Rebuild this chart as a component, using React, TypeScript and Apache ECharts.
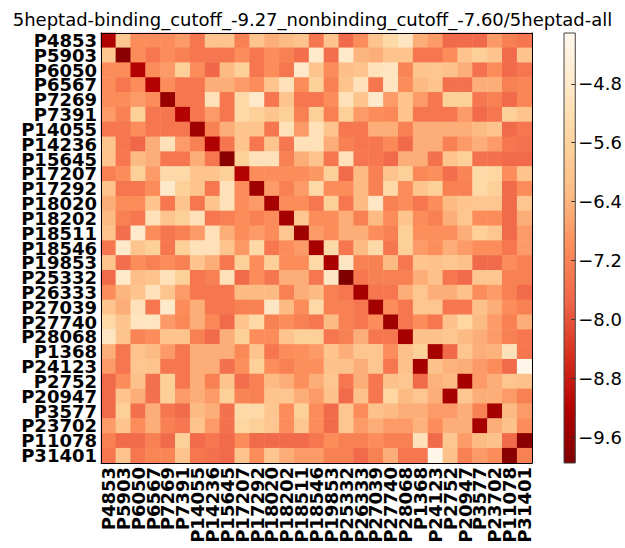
import React, { useEffect, useRef } from "react";
import * as echarts from "echarts";

const TITLE = "5heptad-binding_cutoff_-9.27_nonbinding_cutoff_-7.60/5heptad-all";

const LABELS = [
  "P4853", "P5903", "P6050", "P6567", "P7269", "P7391", "P14055", "P14236", "P15645", "P17207",
  "P17292", "P18020", "P18202", "P18511", "P18546", "P19853", "P25332", "P26333", "P27039", "P27740",
  "P28068", "P1368", "P24123", "P2752", "P20947", "P3577", "P23702", "P11078", "P31401",
];

const MATRIX: number[][] = [
  [-9.25, -5.95, -7.05, -7.05, -7.05, -6.8, -7.45, -6.05, -6.05, -7.25, -6.05, -6.5, -6.3, -6.05, -7.45, -6.05, -7.65, -7.05, -6.05, -5.4, -4.95, -6.5, -6.8, -7.65, -7.65, -7.65, -6.8, -7.25, -7.45],
  [-5.95, -9.8, -7.05, -7.45, -7.05, -7.25, -7.45, -7.45, -7.45, -7.05, -7.45, -7.05, -7.25, -7.6, -4.8, -7.6, -4.8, -6.4, -6.5, -6.05, -6.05, -7.45, -7.45, -7.05, -6.05, -5.7, -6.05, -7.65, -6.05],
  [-7.05, -7.05, -9.2, -7.05, -6.8, -5.7, -7.05, -7.7, -6.3, -5.7, -7.45, -7.05, -7.45, -4.8, -6.05, -7.05, -6.2, -6.05, -5.1, -5.0, -7.2, -6.05, -6.0, -6.1, -6.5, -7.55, -7.05, -7.65, -7.45],
  [-7.05, -7.45, -7.05, -9.2, -7.05, -7.45, -7.45, -6.5, -6.5, -6.8, -7.05, -6.05, -5.1, -7.05, -5.7, -7.25, -6.05, -5.1, -7.45, -5.0, -7.05, -6.3, -6.05, -7.55, -7.55, -6.5, -6.5, -7.25, -7.15],
  [-7.05, -7.05, -6.8, -7.05, -9.6, -7.45, -7.45, -5.1, -7.45, -5.4, -4.8, -7.45, -6.05, -7.45, -7.45, -7.05, -5.1, -6.05, -4.8, -6.8, -6.05, -6.8, -7.45, -5.7, -5.7, -7.45, -7.25, -7.65, -7.15],
  [-6.8, -7.25, -5.7, -7.45, -7.45, -9.2, -7.45, -6.8, -7.45, -5.4, -5.7, -6.05, -5.7, -7.25, -5.7, -7.25, -5.7, -6.8, -7.05, -7.1, -6.05, -7.45, -7.45, -7.45, -6.8, -7.65, -7.45, -5.7, -6.05],
  [-7.45, -7.45, -7.05, -7.45, -7.45, -7.45, -9.5, -7.25, -6.5, -6.05, -6.05, -7.45, -5.1, -6.8, -5.1, -6.05, -7.45, -7.45, -6.5, -6.5, -7.25, -6.5, -6.5, -6.5, -6.5, -6.3, -6.05, -7.65, -7.45],
  [-6.05, -7.45, -7.7, -6.5, -5.1, -6.8, -7.25, -9.25, -7.45, -6.05, -7.45, -6.05, -7.45, -5.1, -5.1, -6.5, -7.25, -7.45, -7.45, -7.1, -7.65, -6.5, -6.5, -7.25, -6.8, -6.5, -6.8, -7.45, -7.55],
  [-6.05, -7.45, -6.3, -6.5, -7.45, -7.45, -6.5, -7.45, -9.8, -5.7, -5.1, -5.1, -7.25, -6.5, -6.05, -7.45, -5.1, -7.45, -7.45, -7.65, -6.5, -6.5, -7.55, -6.05, -5.7, -7.55, -7.55, -7.65, -7.65],
  [-7.25, -7.05, -5.7, -6.8, -5.4, -5.4, -6.05, -6.05, -5.7, -9.2, -7.05, -7.05, -7.05, -7.05, -6.85, -5.7, -7.65, -6.3, -7.25, -6.05, -5.7, -7.1, -7.0, -7.6, -7.2, -5.4, -5.5, -7.05, -6.05],
  [-6.05, -7.45, -7.45, -7.05, -4.8, -5.7, -6.05, -7.45, -5.1, -7.05, -9.5, -6.8, -7.25, -6.8, -5.4, -7.05, -7.05, -6.3, -7.25, -5.4, -7.05, -6.05, -5.7, -7.25, -7.25, -5.4, -5.7, -7.65, -7.05],
  [-6.5, -7.05, -7.05, -6.05, -7.45, -6.05, -7.45, -6.05, -5.1, -7.05, -6.8, -9.4, -7.05, -7.05, -7.45, -5.7, -7.45, -6.3, -4.9, -7.25, -7.05, -7.45, -7.05, -6.3, -6.05, -6.0, -6.0, -7.65, -6.0],
  [-6.3, -7.25, -7.45, -5.1, -6.05, -5.7, -5.1, -7.45, -7.25, -7.05, -7.25, -7.05, -9.4, -6.0, -7.05, -7.05, -6.5, -7.25, -6.3, -7.05, -6.05, -7.05, -7.25, -6.5, -6.0, -7.05, -7.05, -7.65, -6.5],
  [-6.05, -7.6, -4.8, -7.05, -7.45, -7.25, -6.8, -5.1, -6.5, -7.05, -6.8, -7.05, -6.0, -9.5, -6.8, -7.05, -6.5, -6.5, -7.05, -7.25, -5.7, -7.0, -7.0, -7.0, -6.5, -5.7, -6.0, -7.65, -6.8],
  [-7.45, -4.8, -6.05, -5.7, -7.45, -5.7, -5.1, -5.1, -6.05, -6.85, -5.4, -7.45, -7.05, -6.8, -9.4, -5.4, -7.45, -6.3, -5.4, -7.45, -5.7, -6.8, -7.0, -6.5, -6.8, -7.05, -7.05, -7.45, -6.8],
  [-6.05, -7.6, -7.05, -7.25, -7.05, -7.25, -6.05, -6.5, -7.45, -5.7, -7.05, -5.7, -7.05, -7.05, -5.4, -9.35, -4.9, -7.25, -7.25, -6.3, -7.45, -6.05, -6.1, -6.0, -6.1, -7.65, -7.65, -7.05, -7.25],
  [-7.65, -4.8, -6.2, -6.05, -5.1, -5.7, -7.45, -7.25, -5.1, -7.65, -7.05, -7.45, -6.5, -6.5, -7.45, -4.9, -9.95, -7.45, -7.25, -7.25, -7.25, -6.5, -6.1, -7.45, -7.65, -6.0, -6.0, -7.25, -7.25],
  [-7.05, -6.4, -6.05, -5.1, -6.05, -6.8, -7.45, -7.45, -7.45, -6.3, -6.3, -6.3, -7.25, -6.5, -6.3, -7.25, -7.45, -9.4, -7.45, -7.45, -6.5, -6.0, -6.5, -6.5, -6.1, -7.05, -6.8, -7.25, -7.65],
  [-6.05, -6.5, -5.1, -7.45, -4.8, -7.05, -6.5, -7.45, -7.45, -7.25, -7.25, -4.9, -6.3, -7.05, -5.4, -7.25, -7.25, -7.45, -9.45, -7.05, -7.45, -6.0, -6.0, -7.45, -7.45, -6.1, -6.5, -7.05, -7.25],
  [-5.4, -6.05, -5.0, -5.0, -6.8, -7.1, -6.5, -7.1, -7.65, -6.05, -5.4, -7.25, -7.05, -7.25, -7.45, -6.3, -7.25, -7.45, -7.05, -9.5, -7.45, -7.05, -7.45, -6.1, -5.5, -6.3, -6.8, -7.25, -6.5],
  [-4.95, -6.05, -7.2, -7.05, -6.05, -6.05, -7.25, -7.65, -6.5, -5.7, -7.05, -7.05, -6.05, -5.7, -5.7, -7.45, -7.25, -6.5, -7.45, -7.45, -9.4, -6.1, -6.1, -6.0, -6.3, -6.5, -6.8, -7.25, -7.45],
  [-6.5, -7.45, -6.05, -6.3, -6.8, -7.45, -6.5, -6.5, -6.5, -7.1, -6.05, -7.45, -7.05, -7.0, -6.8, -6.05, -6.5, -6.0, -6.0, -7.05, -6.1, -5.7, -9.4, -7.65, -6.0, -6.5, -6.45, -5.1, -7.45],
  [-6.8, -7.45, -6.0, -6.05, -7.45, -7.45, -6.5, -6.5, -7.55, -7.0, -5.7, -7.05, -7.25, -7.0, -7.0, -6.1, -6.1, -6.5, -6.0, -7.45, -6.1, -9.4, -6.1, -6.45, -6.5, -6.8, -7.05, -7.65, -4.15],
  [-7.65, -7.05, -6.1, -7.55, -5.7, -7.45, -6.5, -7.25, -6.05, -7.6, -7.25, -6.3, -6.5, -7.0, -6.5, -6.0, -7.45, -6.5, -7.45, -6.1, -6.0, -7.65, -6.45, -6.3, -9.4, -6.8, -6.5, -6.0, -6.1],
  [-7.65, -6.05, -6.5, -7.55, -5.7, -6.8, -6.5, -6.8, -5.7, -7.2, -7.25, -6.05, -6.0, -6.5, -6.8, -6.1, -7.65, -6.1, -7.45, -5.5, -6.3, -6.0, -6.5, -9.4, -6.0, -6.5, -6.5, -6.8, -7.25],
  [-7.65, -5.7, -7.55, -6.5, -7.45, -7.65, -6.3, -6.5, -7.55, -5.4, -5.4, -6.0, -7.05, -5.7, -7.05, -7.65, -6.0, -7.05, -6.1, -6.3, -6.5, -6.5, -6.8, -6.8, -6.5, -7.25, -9.4, -6.3, -6.8],
  [-6.8, -6.05, -7.05, -6.5, -7.25, -7.45, -6.05, -6.8, -7.55, -5.5, -5.7, -6.0, -7.05, -6.0, -7.05, -7.65, -6.0, -6.8, -6.5, -6.8, -6.8, -6.45, -7.05, -6.5, -6.5, -9.4, -6.5, -6.1, -7.05],
  [-7.25, -7.65, -7.65, -7.25, -7.65, -5.7, -7.65, -7.45, -7.65, -7.05, -7.65, -7.65, -7.65, -7.65, -7.45, -7.05, -7.25, -7.25, -7.05, -7.25, -7.25, -5.1, -7.65, -6.0, -6.8, -6.3, -6.1, -7.65, -9.8],
  [-7.45, -6.05, -7.45, -7.15, -7.15, -6.05, -7.45, -7.55, -7.65, -6.05, -7.05, -6.0, -6.5, -6.8, -6.8, -7.25, -7.25, -7.65, -7.25, -6.5, -7.45, -7.45, -4.15, -6.1, -7.25, -6.8, -7.05, -9.8, -7.25],
];

const CB_MIN = -9.95;
const CB_MAX = -4.11;
const CB_TICKS = [-9.6, -8.8, -8.0, -7.2, -6.4, -5.6, -4.8];
// OrRd reversed: low (dark) -> high (light)
const COLORS = ["#7f0000", "#b30000", "#d7301f", "#ef6548", "#fc8d59", "#fdbb84", "#fdd49e", "#fee8c8", "#fff7ec"];

const FONT = "DejaVu Sans";

export default function App() {
  const ref = useRef<HTMLDivElement>(null);

  useEffect(() => {
    if (!ref.current) return;
    const chart = echarts.init(ref.current, undefined, { renderer: "svg" });

    const heatData: number[][] = [];
    MATRIX.forEach((row, i) => row.forEach((v, j) => heatData.push([j, i, v])));

    const stops = COLORS.slice().reverse().map((c, k) => ({ offset: k / (COLORS.length - 1), color: c }));

    const tickStyle = { inside: true, alignWithLabel: true, length: 4, lineStyle: { color: "#000", width: 1 } };

    chart.setOption({
      animation: false,
      title: {
        text: TITLE,
        left: "center",
        top: 5,
        textStyle: { fontFamily: FONT, fontSize: 18, fontWeight: "normal", color: "#000" },
      },
      grid: [
        { left: 101, top: 33, width: 431, height: 430 },
        { left: 564, top: 33, width: 23, height: 430 },
      ],
      visualMap: {
        type: "continuous",
        show: false,
        min: CB_MIN,
        max: CB_MAX,
        seriesIndex: 0,
        inRange: { color: COLORS },
      },
      xAxis: [
        {
          gridIndex: 0,
          type: "category",
          data: LABELS,
          position: "bottom",
          z: 10,
          axisLine: { lineStyle: { color: "#000", width: 1 } },
          axisTick: tickStyle,
          splitLine: { show: false },
          axisLabel: {
            interval: 0,
            rotate: 90,
            margin: 4,
            fontFamily: FONT,
            fontSize: 18,
            fontWeight: "bold",
            color: "#000",
          },
        },
        {
          gridIndex: 0,
          type: "category",
          data: LABELS,
          position: "top",
          z: 10,
          axisLine: { lineStyle: { color: "#000", width: 1 } },
          axisTick: tickStyle,
          axisLabel: { show: false },
          splitLine: { show: false },
        },
        {
          gridIndex: 1,
          type: "category",
          data: [""],
          show: false,
        },
      ],
      yAxis: [
        {
          gridIndex: 0,
          type: "category",
          data: LABELS,
          inverse: true,
          position: "left",
          z: 10,
          axisLine: { lineStyle: { color: "#000", width: 1 } },
          axisTick: tickStyle,
          splitLine: { show: false },
          axisLabel: {
            interval: 0,
            margin: 4,
            fontFamily: FONT,
            fontSize: 18,
            fontWeight: "bold",
            color: "#000",
          },
        },
        {
          gridIndex: 0,
          type: "category",
          data: LABELS,
          inverse: true,
          position: "right",
          z: 10,
          axisLine: { lineStyle: { color: "#000", width: 1 } },
          axisTick: tickStyle,
          axisLabel: { show: false },
          splitLine: { show: false },
        },
        {
          gridIndex: 1,
          type: "value",
          min: CB_MIN,
          max: CB_MAX,
          position: "right",
          z: 10,
          axisLine: { show: false },
          splitLine: { show: false },
          axisTick: {
            show: true,
            inside: true,
            length: 4,
            customValues: CB_TICKS,
            lineStyle: { color: "#333", width: 1 },
          },
          axisLabel: {
            customValues: CB_TICKS,
            margin: 3,
            fontFamily: FONT,
            fontSize: 18,
            color: "#000",
            formatter: (v: number) => "\u2212" + Math.abs(v).toFixed(1),
          },
        },
      ],
      series: [
        {
          type: "heatmap",
          xAxisIndex: 0,
          yAxisIndex: 0,
          data: heatData,
          emphasis: { disabled: true },
          itemStyle: { borderWidth: 0 },
        },
        {
          type: "custom",
          xAxisIndex: 2,
          yAxisIndex: 2,
          clip: false,
          silent: true,
          data: [[0, CB_MIN, CB_MAX]],
          renderItem: (params: any, api: any) => {
            const p0 = api.coord([api.value(0), api.value(1)]);
            const p1 = api.coord([api.value(0), api.value(2)]);
            const w = api.size([1, 0])[0];
            return {
              type: "rect",
              shape: { x: p0[0] - w / 2, y: p1[1], width: w, height: p0[1] - p1[1] },
              style: {
                fill: new echarts.graphic.LinearGradient(0, 0, 0, 1, stops),
                stroke: "#444",
                lineWidth: 1,
              },
            };
          },
        },
      ],
    });

    return () => chart.dispose();
  }, []);

  return (
    <div
      ref={ref}
      style={{ position: "fixed", left: 0, top: 0, width: 625, height: 548, background: "#fff" }}
    />
  );
}
